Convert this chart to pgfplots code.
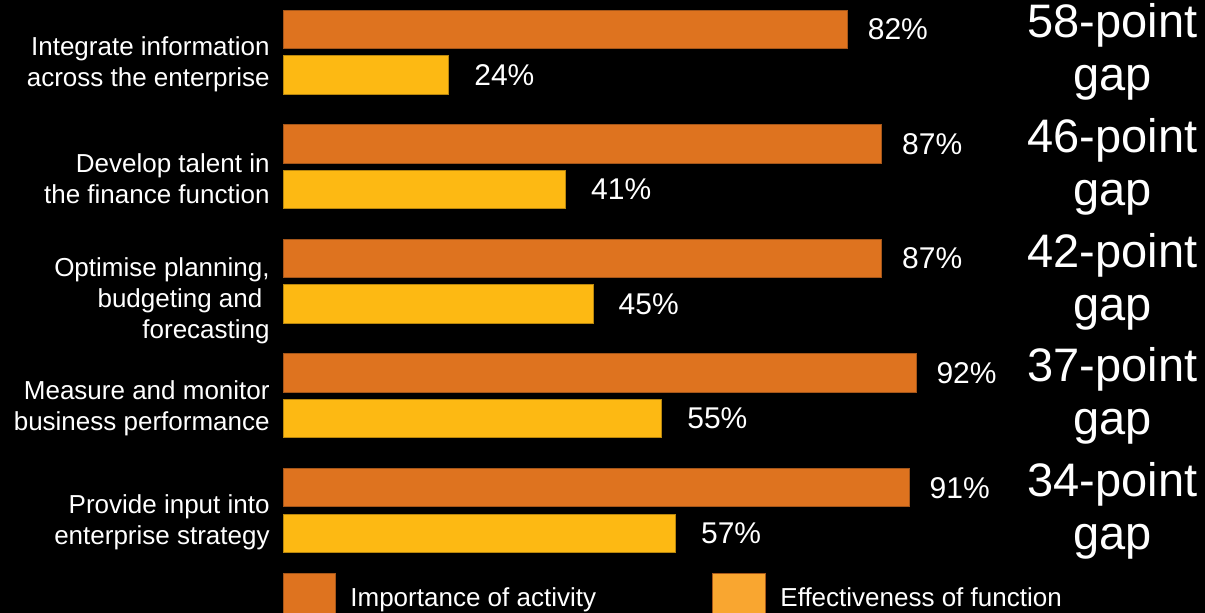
\documentclass[border=0pt]{standalone}
\usepackage{fontspec}
\setmainfont{Liberation Sans}
\usepackage{pgfplots}
\pgfplotsset{compat=1.18}
\definecolor{impfill}{HTML}{DE731F}
\definecolor{impdraw}{HTML}{A4561A}
\definecolor{efffill}{HTML}{FDB913}
\definecolor{effdraw}{HTML}{B8860E}
\definecolor{efflegend}{HTML}{F9A630}
\begin{document}
\begin{tikzpicture}
\fill[black] (0,0) rectangle (602.5pt,306.5pt);
\begin{axis}[
  at={(142pt,16.87pt)}, anchor=south west,
  x=3.435pt, y=57.3pt,
  xmin=0, xmax=100, ymin=-0.6, ymax=4.6,
  xbar, bar width=19.25pt,
  axis line style={draw=none},
  tick style={draw=none},
  major tick length=0pt,
  xtick=\empty,
  ytick={0,1,3,4},
  yticklabels={{Provide input into\\enterprise strategy},{Measure and monitor\\business performance},{Develop talent in\\the finance function},{Integrate information\\across the enterprise}},
  extra y ticks={2},
  extra y tick labels={{Optimise planning{,}\\budgeting and\phantom{ }\\forecasting}},
  extra y tick style={yticklabel style={yshift=-3.5pt}},
  yticklabel style={text=white, align=right, inner sep=0pt, xshift=-7pt, yshift=-6pt, font=\fontsize{13pt}{15.5pt}\selectfont},
  /pgf/number format/assume math mode=true,
  clip=false,
  nodes near coords={\pgfmathprintnumber{\pgfplotspointmeta}\%},
]
\addplot[fill=impfill, draw=impdraw, line width=0.5pt, bar shift=11.4pt,
  every node near coord/.append style={anchor=west, inner sep=0pt, xshift=10pt, text=white, font=\fontsize{15pt}{17pt}\selectfont}]
  coordinates {(91,0) (92,1) (87,2) (87,3) (82,4)};
\addplot[fill=efffill, draw=effdraw, line width=0.5pt, bar shift=-11.4pt,
  every node near coord/.append style={anchor=west, inner sep=0pt, xshift=12.5pt, text=white, font=\fontsize{15pt}{17pt}\selectfont}]
  coordinates {(57,0) (55,1) (45,2) (41,3) (24,4)};
\end{axis}
% gap annotations
\foreach \g/\y in {58/280.5, 46/223.2, 42/165.9, 37/108.6, 34/51.25}{
  \node[anchor=base, text=white, inner sep=0pt, font=\fontsize{23.5pt}{27pt}\selectfont] at (556.25pt,\y pt+7pt) {\g-point};
  \node[anchor=base, text=white, inner sep=0pt, font=\fontsize{23.5pt}{27pt}\selectfont] at (556.25pt,\y pt-19.5pt) {gap};
}
% legend
\fill[impfill, draw=impdraw, line width=0.5pt] (141.5pt,-1pt) rectangle (167.5pt,19.5pt);
\node[anchor=base west, text=white, inner sep=0pt, font=\fontsize{13pt}{15pt}\selectfont] at (175pt,3.2pt) {Importance of activity};
\fill[efflegend, draw=impdraw, line width=0.5pt] (356pt,-1pt) rectangle (382.5pt,19.5pt);
\node[anchor=base west, text=white, inner sep=0pt, font=\fontsize{13pt}{15pt}\selectfont] at (390pt,3.2pt) {Effectiveness of function};
\pgfresetboundingbox
\useasboundingbox (0,0) rectangle (602.5pt,306.5pt);
\end{tikzpicture}
\end{document}
